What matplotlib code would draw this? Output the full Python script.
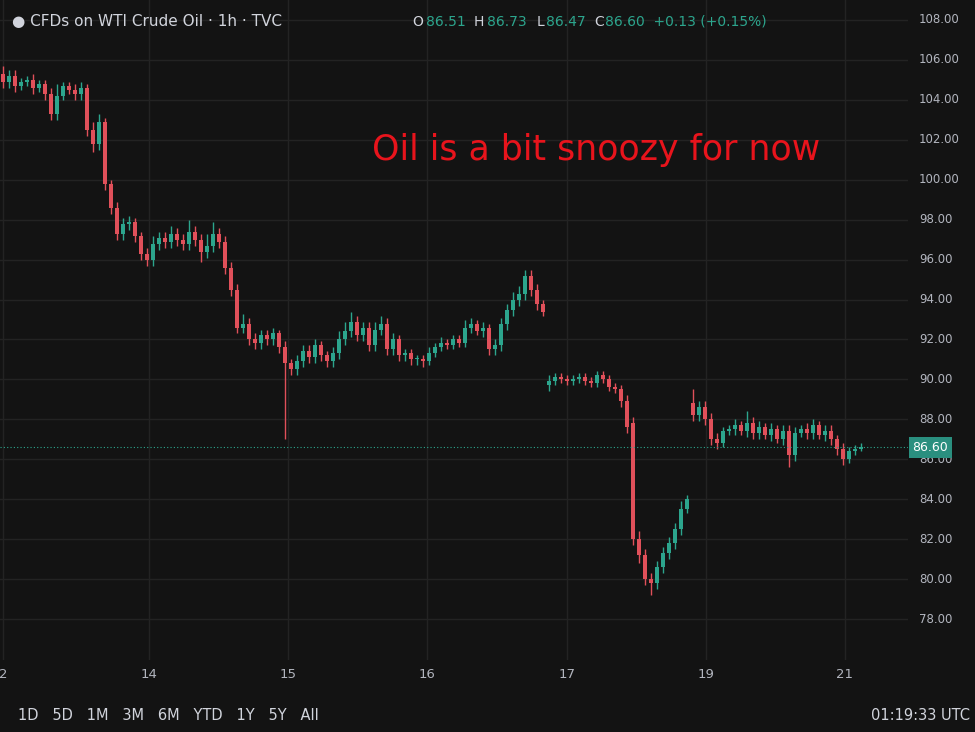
import matplotlib
matplotlib.use("Agg")
import matplotlib.pyplot as plt

closes = [104.9,105.2,104.7,104.9,105.0,104.6,104.8,104.3,103.3,104.2,
          104.7,104.5,104.3,104.6,102.5,101.8,102.9,99.8,98.6,97.3,
          97.8,97.9,97.2,96.3,96.0,96.8,97.1,96.9,97.3,97.0,
          96.8,97.4,97.0,96.4,96.7,97.3,96.9,95.6,94.5,92.6,
          92.8,92.0,91.8,92.2,92.0,92.3,91.6,90.8,90.5,90.9,
          91.4,91.1,91.7,91.2,90.9,91.3,92.0,92.4,92.9,92.2,
          92.6,91.7,92.5,92.8,91.5,92.0,91.2,91.3,91.0,91.0,
          90.9,91.3,91.6,91.8,91.7,92.0,91.8,92.6,92.8,92.4,
          92.6,91.5,91.7,92.8,93.5,94.0,94.3,95.2,94.5,93.8,
          93.4,89.9,90.1,90.0,89.9,90.0,90.1,89.9,89.8,90.2,
          90.0,89.6,89.5,88.9,87.6,82.0,81.2,80.0,79.8,80.6,
          81.3,81.8,82.5,83.5,84.0,88.2,88.6,88.0,87.0,86.8,
          87.4,87.5,87.7,87.4,87.8,87.3,87.6,87.2,87.5,87.0,
          87.4,86.2,87.3,87.5,87.3,87.7,87.2,87.4,87.0,86.5,
          86.0,86.4,86.5,86.6]
first_open = 105.3
gap_opens = {91: 89.7, 105: 87.8, 115: 88.8}
upper_wick = [0.4,0.3,0.3,0.2,0.2,0.3,0.2,0.2,0.3,0.6,
              0.2,0.2,0.3,0.3,0.2,0.4,0.4,0.2,0.2,0.3,
              0.3,0.3,0.2,0.2,0.3,0.4,0.3,0.3,0.4,0.3,
              0.3,0.6,0.3,0.3,0.6,0.6,0.3,0.3,0.3,0.3,
              0.5,0.3,0.3,0.3,0.3,0.3,0.2,0.3,0.2,0.3,
              0.3,0.3,0.3,0.2,0.2,0.3,0.4,0.5,0.5,0.3,
              0.3,0.3,0.4,0.4,0.3,0.3,0.2,0.2,0.2,0.2,
              0.2,0.3,0.2,0.3,0.2,0.2,0.2,0.4,0.3,0.2,
              0.3,0.2,0.3,0.3,0.3,0.4,0.4,0.3,0.3,0.3,
              0.2,0.3,0.2,0.2,0.2,0.2,0.2,0.2,0.2,0.2,
              0.2,0.2,0.2,0.2,0.3,0.3,0.4,0.3,0.3,0.3,
              0.3,0.3,0.3,0.4,0.2,0.7,0.3,0.3,0.3,0.3,
              0.2,0.2,0.3,0.2,0.6,0.3,0.3,0.2,0.3,0.2,
              0.3,0.3,0.3,0.2,0.3,0.3,0.2,0.3,0.3,0.2,
              0.3,0.2,0.2,0.2]
lower_wick = [0.3,0.3,0.3,0.2,0.2,0.3,0.2,0.3,0.3,0.3,
              0.2,0.2,0.3,0.3,0.3,0.4,0.3,0.3,0.3,0.3,
              0.3,0.3,0.3,0.3,0.3,0.3,0.3,0.3,0.3,0.3,
              0.3,0.3,0.3,0.5,0.3,0.3,0.3,0.3,0.3,0.3,
              0.3,0.3,0.3,0.3,0.3,0.3,0.3,3.8,0.3,0.3,
              0.3,0.3,0.3,0.3,0.3,0.3,0.3,0.3,0.3,0.3,
              0.3,0.3,0.3,0.3,0.3,0.3,0.3,0.3,0.3,0.3,
              0.3,0.2,0.2,0.2,0.2,0.2,0.2,0.2,0.3,0.2,
              0.3,0.3,0.3,0.3,0.3,0.3,0.3,0.3,0.3,0.3,
              0.2,0.3,0.2,0.2,0.2,0.2,0.2,0.2,0.2,0.2,
              0.2,0.2,0.2,0.3,0.3,0.3,0.4,0.3,0.6,0.3,
              0.3,0.3,0.3,0.3,0.2,0.3,0.3,0.3,0.3,0.3,
              0.2,0.2,0.3,0.2,0.3,0.3,0.3,0.2,0.3,0.2,
              0.3,0.6,0.3,0.2,0.3,0.3,0.2,0.3,0.3,0.3,
              0.3,0.2,0.2,0.1]
tick_pos = [0, 24.3, 47.5, 70.7, 94, 117.2, 140.3]
tick_labels = ["2", "14", "15", "16", "17", "19", "21"]
price_ticks = [78, 80, 82, 84, 86, 88, 90, 92, 94, 96, 98, 100, 102, 104, 106, 108]
last_price = 86.60

BG = "#131313"
UP = "#2ca58d"
DN = "#e0505a"
TXT = "#b2b5be"

fig = plt.figure(figsize=(9.75, 7.32), dpi=100, facecolor=BG)
ax = fig.add_axes([0, 72/732, 908/975, 660/732], facecolor=BG)

prev = first_open
for i, c in enumerate(closes):
    o = gap_opens.get(i, prev)
    hi = max(o, c) + upper_wick[i]
    lo = min(o, c) - lower_wick[i]
    col = UP if c >= o else DN
    ax.vlines(i, lo, hi, color=col, lw=1)
    h = abs(c - o)
    if h < 0.08:
        h = 0.08
    ax.bar(i, h, bottom=min(o, c), width=0.7, color=col, edgecolor=col, lw=0)
    prev = c

ax.set_xlim(-0.5, 150.8)
ax.set_ylim(75.95, 109.0)
ax.set_xticks(tick_pos)
ax.set_yticks(price_ticks)
ax.grid(True, color="#232323", lw=1)
ax.set_axisbelow(True)
ax.tick_params(length=0, labelbottom=False, labelleft=False)
for s in ax.spines.values():
    s.set_visible(False)

for p in price_ticks:
    ax.text(1.012, (p - 75.95) / (109.0 - 75.95), f"{p:.2f}", transform=ax.transAxes,
            color=TXT, fontsize=8.5, va="center", ha="left")
for x, lab in zip(tick_pos, tick_labels):
    ax.text(x, -0.012, lab, transform=ax.get_xaxis_transform(), color=TXT,
            fontsize=9.5, ha="center", va="top")

ax.axhline(last_price, color=UP, lw=0.8, ls=(0, (1, 2)))
ax.text(1.005, (last_price - 75.95) / (109.0 - 75.95), f"{last_price:.2f}",
        transform=ax.transAxes, color="white", fontsize=9, va="center", ha="left",
        bbox=dict(boxstyle="square,pad=0.3", fc="#2a8f7f", ec="none"))

ax.text(0.41, 0.773, "Oil is a bit snoozy for now", transform=ax.transAxes,
        color="#e8141c", fontsize=25, ha="left", va="center")

fig.text(0.012, 0.970, "\u25cf CFDs on WTI Crude Oil \u00b7 1h \u00b7 TVC", color="#d1d4dc",
         fontsize=11, ha="left", va="center")
fig.text(0.423, 0.970, "O", color="#d1d4dc", fontsize=10, ha="left", va="center")
fig.text(0.437, 0.970, "86.51", color=UP, fontsize=10, ha="left", va="center")
fig.text(0.486, 0.970, "H", color="#d1d4dc", fontsize=10, ha="left", va="center")
fig.text(0.499, 0.970, "86.73", color=UP, fontsize=10, ha="left", va="center")
fig.text(0.550, 0.970, "L", color="#d1d4dc", fontsize=10, ha="left", va="center")
fig.text(0.560, 0.970, "86.47", color=UP, fontsize=10, ha="left", va="center")
fig.text(0.609, 0.970, "C", color="#d1d4dc", fontsize=10, ha="left", va="center")
fig.text(0.621, 0.970, "86.60  +0.13 (+0.15%)", color=UP, fontsize=10, ha="left", va="center")

fig.text(0.018, 0.023, "1D   5D   1M   3M   6M   YTD   1Y   5Y   All", color="#d1d4dc",
         fontsize=10.5, ha="left", va="center")
fig.text(0.995, 0.023, "01:19:33 UTC", color="#d1d4dc", fontsize=10.5, ha="right", va="center")

fig.savefig("out.png", dpi=100, facecolor=BG)
